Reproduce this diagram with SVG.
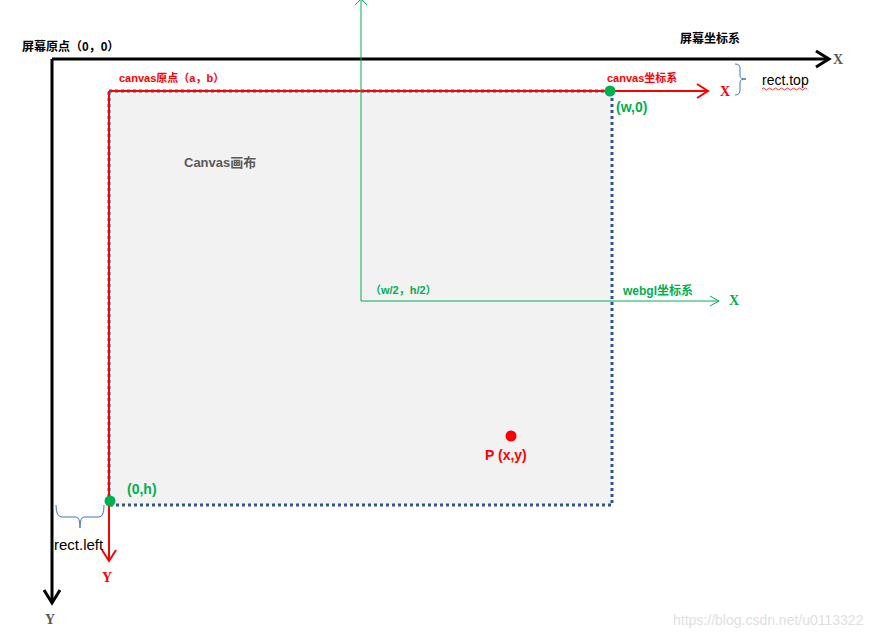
<svg xmlns="http://www.w3.org/2000/svg" width="892" height="639" viewBox="0 0 892 639">
<style>
text{font-family:"Liberation Sans","Noto Sans CJK SC",sans-serif;font-weight:bold}
.sm{font-size:11px}
.md{font-size:14px}
.red{fill:#ff0000}
.grn{fill:#00b050}
.ser{font-family:"Liberation Serif","Noto Sans CJK SC",serif}
</style>
<rect width="892" height="639" fill="#fff"/>
<g id="canvas">
<rect x="109" y="91" width="503" height="414" fill="#f2f2f2" stroke="#2f5597" stroke-width="3" stroke-dasharray="3,3"/>
<text x="184" y="167" font-size="13" fill="#595959">Canvas画布</text>
</g>
<g id="connectors" fill="none">
<path d="M52,59 H828 M52,59 V603" stroke="#000" stroke-width="3"/>
<path d="M816,51 L829,59 L816,67 M44,590 L52,603 L60,590" stroke="#000" stroke-width="3"/>
<path d="M109,91 H707 M109,91 V561" stroke="#ff0000" stroke-width="2"/>
<path d="M697,84 L708,91 L697,98 M102,550 L109,561 L116,550" stroke="#ff0000" stroke-width="2"/>
<path d="M361,0 V301 H719" stroke="#00b050" stroke-width="1"/>
<path d="M355,5 L361,-1 L367,5 M710,296 L719,301 L710,306" stroke="#00b050" stroke-width="1"/>
<path d="M735,64 Q740,64 740,68 V76 Q740,79 746,79 Q740,79 740,82 V90 Q740,95 735,95" stroke="#4472c4" stroke-width="1"/>
<path d="M56,505 Q56,517 62,517 H76 Q80,517 80,528 Q80,517 84,517 H99 Q104,517 104,505" stroke="#4472c4" stroke-width="1"/>
</g>
<g id="screen-origin"><text x="22" y="51" font-size="12" fill="#000">屏幕原点（0，0）</text></g>
<g id="screen-axis">
<text x="680" y="43" font-size="12" fill="#000">屏幕坐标系</text>
<text x="833" y="64" class="ser" font-size="14" font-weight="normal" fill="#595959">X</text>
<text x="45" y="624" class="ser" font-size="14" font-weight="normal" fill="#595959">Y</text>
</g>
<g id="canvas-origin"><text x="119" y="82" class="sm red">canvas原点（a，b）</text></g>
<g id="canvas-axis">
<text x="607" y="82" class="sm red">canvas坐标系</text>
<text x="720" y="96" class="ser red" font-size="14">X</text>
<text x="102" y="582" class="ser red" font-size="14">Y</text>
</g>
<g id="w0">
<circle cx="610" cy="91" r="5.5" fill="#00b050"/>
<text x="616" y="112" class="md grn">(w,0)</text>
</g>
<g id="oh">
<circle cx="110" cy="501" r="5.5" fill="#00b050"/>
<text x="127" y="494" class="md grn">(0,h)</text>
</g>
<g id="rect-top">
<text x="762" y="85" font-size="14" fill="#000" style="font-weight:normal">rect.top</text>
<path d="M762,89 q1.5,-2 3,0 t3,0 t3,0 t3,0 t3,0 t3,0 t3,0 t3,0 t3,0 t3,0 t3,0 t3,0 t3,0 t3,0 t3,0" fill="none" stroke="#ff0000" stroke-width="0.8"/>
</g>
<g id="rect-left"><text x="54" y="550" font-size="15" fill="#000" style="font-weight:normal">rect.left</text></g>
<g id="webgl">
<text x="370" y="294" class="sm grn">（w/2，h/2）</text>
<text x="623" y="295" font-size="12" class="grn">webgl坐标系</text>
<text x="729" y="305" class="ser grn" font-size="14">X</text>
</g>
<g id="p">
<circle cx="511" cy="436" r="5.5" fill="#ff0000"/>
<text x="485" y="460" class="md red">P (x,y)</text>
</g>
<text x="673" y="625" font-size="14" fill="#e0e0e0" style="font-weight:normal">https://blog.csdn.net/u0113322</text>
</svg>
